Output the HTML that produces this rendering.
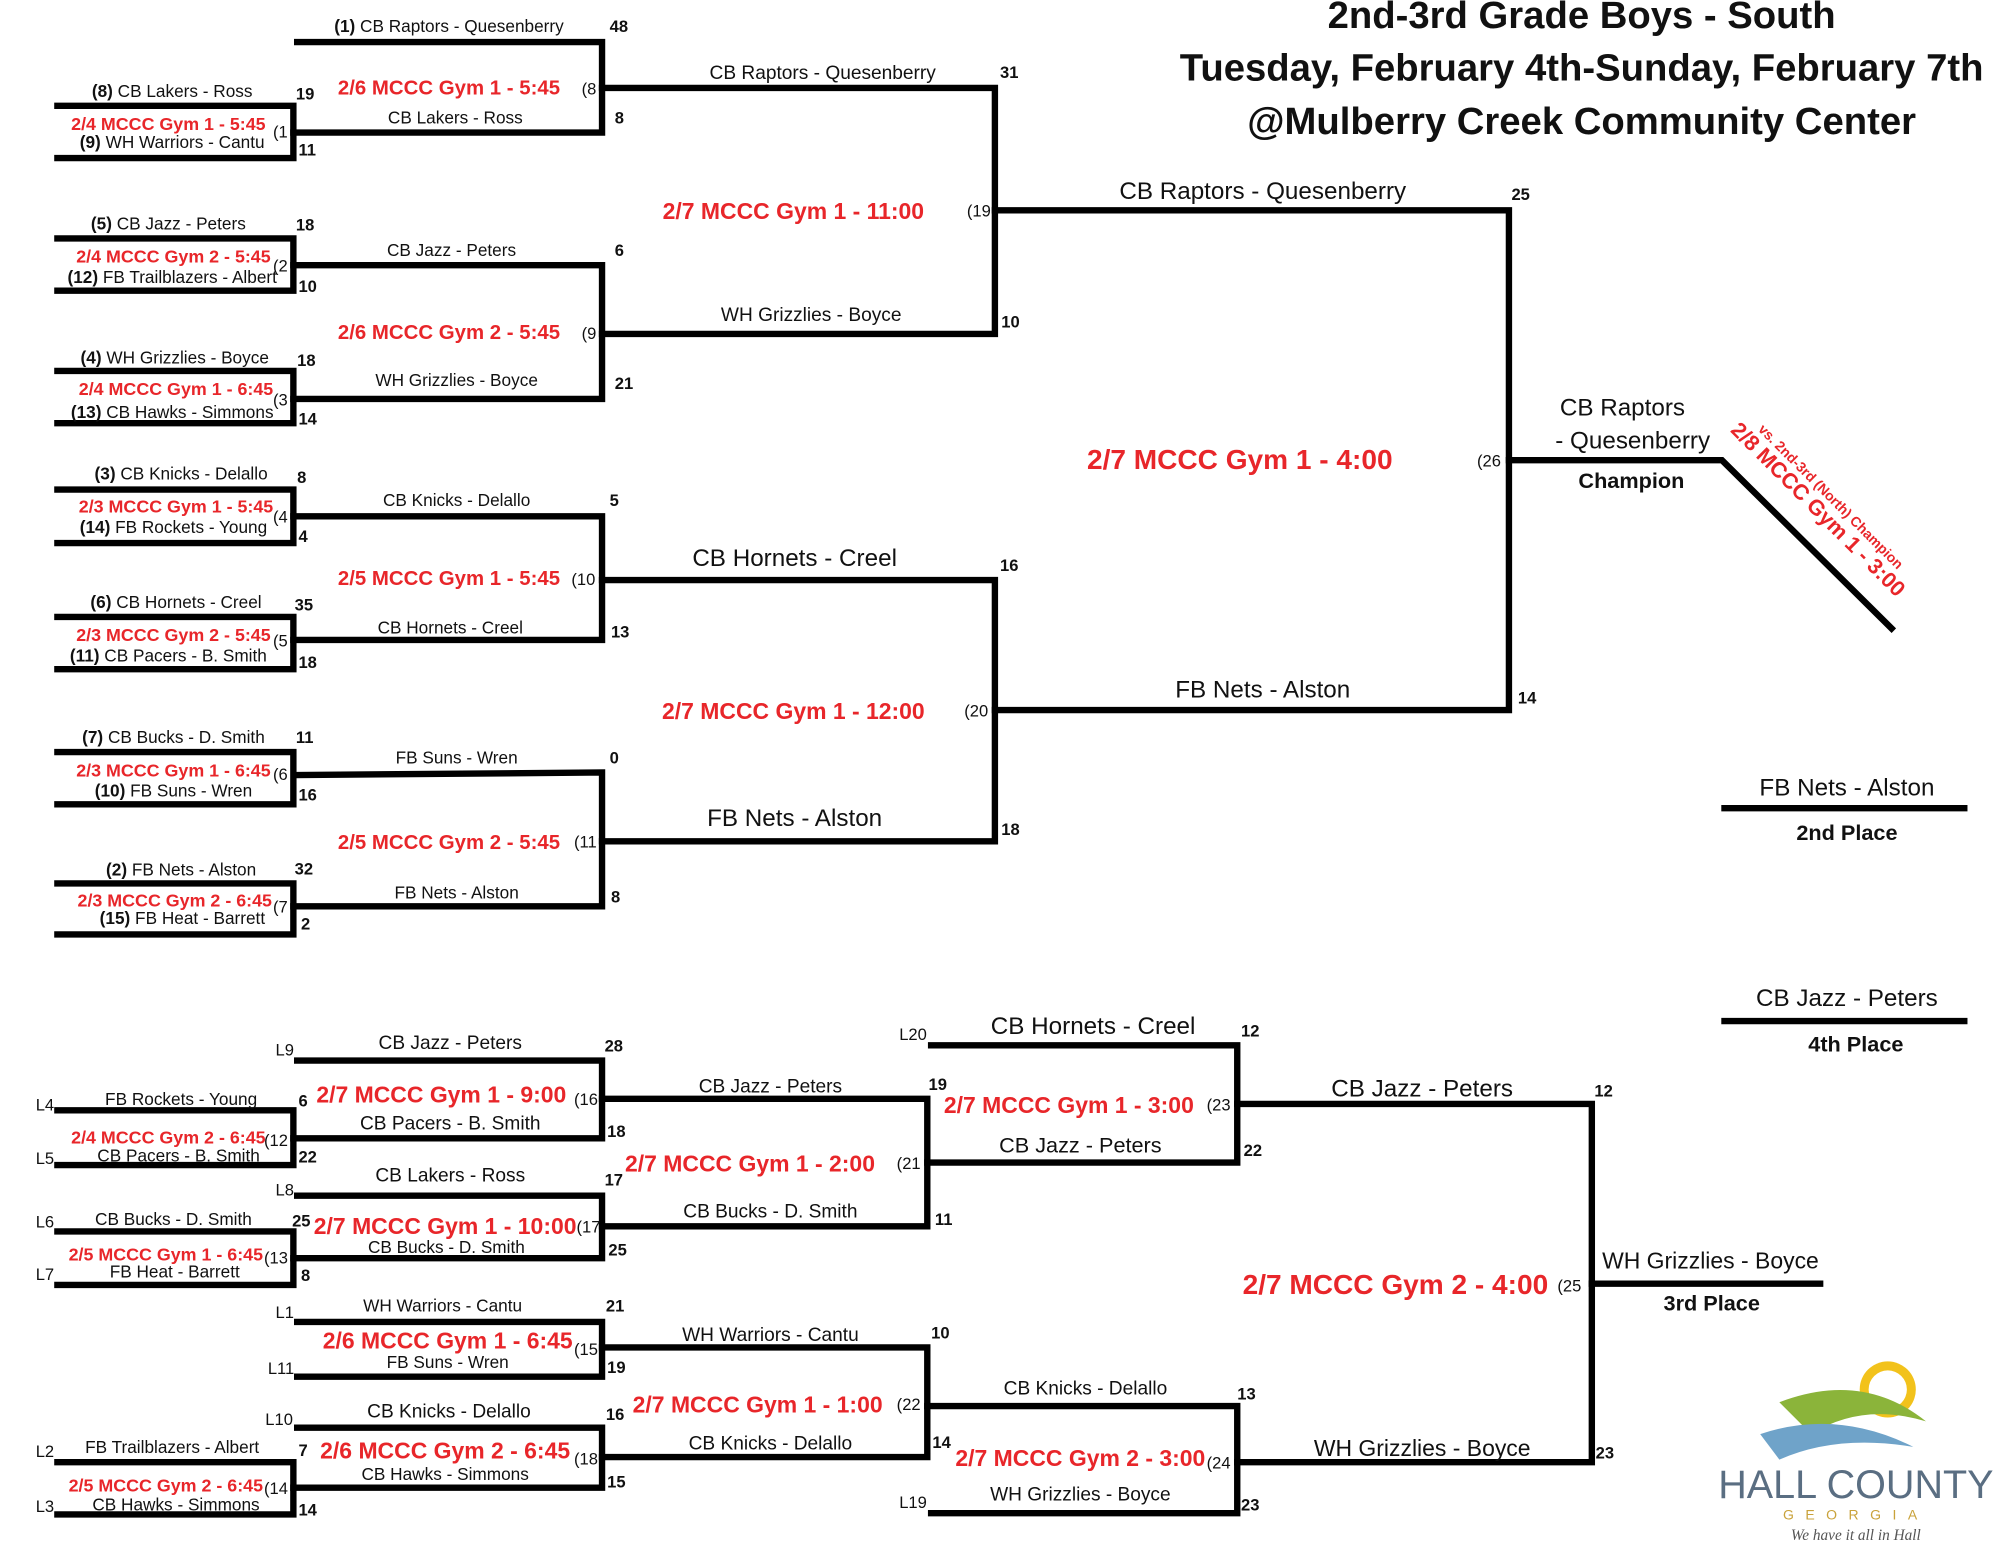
<!DOCTYPE html>
<html><head><meta charset="utf-8"><style>
html,body{margin:0;padding:0;background:#fff;}
svg{display:block;}
text{font-family:"Liberation Sans","DejaVu Sans",sans-serif;fill:#111;}
.s{font-size:13.5px;text-anchor:middle;}
.m{font-size:15px;text-anchor:middle;}
.l{font-size:19px;text-anchor:middle;}
.r{fill:#e8262a;font-weight:bold;font-size:14px;text-anchor:middle;}
.rm{fill:#e8262a;font-weight:bold;font-size:18px;text-anchor:middle;}
.rl{fill:#e8262a;font-weight:bold;font-size:22px;text-anchor:middle;}
.n{font-size:13px;font-weight:bold;}
.p{font-size:13px;}
.b{font-weight:bold;}
.t{font-size:30px;font-weight:bold;text-anchor:middle;}
</style></head><body>
<svg width="2000" height="1545" viewBox="0 0 1568 1212" preserveAspectRatio="none" xmlns="http://www.w3.org/2000/svg">
<g stroke="#000" stroke-width="5" fill="none" stroke-linecap="square">
<path d="M45 83H230V124H45"/>
<path d="M45 187H230V228H45"/>
<path d="M45 291H230V332H45"/>
<path d="M45 384H230V426H45"/>
<path d="M45 484H230V525H45"/>
<path d="M45 590H230V631H45"/>
<path d="M45 693H230V733H45"/>
<path d="M233 33H472V104H230"/>
<path d="M230 208H472V313H230"/>
<path d="M230 405H472V502H230"/>
<path d="M233 608L472 606V711H230"/>
<path d="M472 69H780V262H472"/>
<path d="M472 455H780V660H472"/>
<path d="M780 165H1183V557H780"/>
<path d="M1183 361H1350L1483 493"/>
<path d="M1352 634H1540M1352 801H1540"/>
<path d="M45 871H230V914H45"/>
<path d="M45 966H230V1008H45"/>
<path d="M45 1147H230V1188H45"/>
<path d="M233 832H472V893H230"/>
<path d="M233 938H472V987H230"/>
<path d="M233 1037H472V1080H233"/>
<path d="M233 1120H472V1167H230"/>
<path d="M472 862H727V962H472"/>
<path d="M472 1057H727V1143H472"/>
<path d="M730 820H970V912H727"/>
<path d="M727 1103H970V1187H730"/>
<path d="M970 866H1248V1147H970"/>
<path d="M1248 1007H1427"/>
</g>

<text class="t" x="1240" y="22">2nd-3rd Grade Boys  - South</text>
<text class="t" x="1240" y="63">Tuesday, February 4th-Sunday, February 7th</text>
<text class="t" x="1240" y="105">@Mulberry Creek Community Center</text>

<text class="s" x="135" y="76"><tspan class="b">(8)</tspan> CB Lakers - Ross</text>
<text class="r" x="132" y="102">2/4 MCCC Gym 1 - 5:45</text>
<text class="s" x="135" y="116"><tspan class="b">(9)</tspan> WH Warriors - Cantu</text>
<text class="p" x="214" y="108">(1</text>
<text class="n" x="232" y="78">19</text><text class="n" x="234" y="122">11</text>

<text class="s" x="132" y="180"><tspan class="b">(5)</tspan> CB Jazz - Peters</text>
<text class="r" x="136" y="206">2/4 MCCC Gym 2 - 5:45</text>
<text class="s" x="135" y="222"><tspan class="b">(12)</tspan> FB Trailblazers - Albert</text>
<text class="p" x="214" y="213">(2</text>
<text class="n" x="232" y="181">18</text><text class="n" x="234" y="229">10</text>

<text class="s" x="137" y="285"><tspan class="b">(4)</tspan> WH Grizzlies - Boyce</text>
<text class="r" x="138" y="310">2/4 MCCC Gym 1 - 6:45</text>
<text class="s" x="135" y="328"><tspan class="b">(13)</tspan> CB Hawks - Simmons</text>
<text class="p" x="214" y="318">(3</text>
<text class="n" x="233" y="287">18</text><text class="n" x="234" y="333">14</text>

<text class="s" x="142" y="376"><tspan class="b">(3)</tspan> CB Knicks - Delallo</text>
<text class="r" x="138" y="402">2/3 MCCC Gym 1 - 5:45</text>
<text class="s" x="136" y="418"><tspan class="b">(14)</tspan> FB Rockets - Young</text>
<text class="p" x="214" y="410">(4</text>
<text class="n" x="233" y="379">8</text><text class="n" x="234" y="425">4</text>

<text class="s" x="138" y="477"><tspan class="b">(6)</tspan> CB Hornets - Creel</text>
<text class="r" x="136" y="503">2/3 MCCC Gym 2 - 5:45</text>
<text class="s" x="132" y="519"><tspan class="b">(11)</tspan> CB Pacers - B. Smith</text>
<text class="p" x="214" y="507">(5</text>
<text class="n" x="231" y="479">35</text><text class="n" x="234" y="524">18</text>

<text class="s" x="136" y="583"><tspan class="b">(7)</tspan> CB Bucks - D. Smith</text>
<text class="r" x="136" y="609">2/3 MCCC Gym 1 - 6:45</text>
<text class="s" x="136" y="625"><tspan class="b">(10)</tspan> FB Suns - Wren</text>
<text class="p" x="214" y="612">(6</text>
<text class="n" x="232" y="583">11</text><text class="n" x="234" y="628">16</text>

<text class="s" x="142" y="687"><tspan class="b">(2)</tspan> FB Nets - Alston</text>
<text class="r" x="137" y="711">2/3 MCCC Gym 2 - 6:45</text>
<text class="s" x="143" y="725"><tspan class="b">(15)</tspan> FB Heat - Barrett</text>
<text class="p" x="214" y="716">(7</text>
<text class="n" x="231" y="686">32</text><text class="n" x="236" y="729">2</text>

<text class="s" x="352" y="25"><tspan class="b">(1)</tspan> CB Raptors - Quesenberry</text>
<text class="n" x="478" y="25">48</text>
<text class="rm" x="352" y="74" style="font-size:16px">2/6 MCCC Gym 1 - 5:45</text>
<text class="p" x="456" y="74">(8</text>
<text class="s" x="357" y="97">CB Lakers - Ross</text>
<text class="n" x="482" y="97">8</text>

<text class="s" x="354" y="201">CB Jazz - Peters</text><text class="n" x="482" y="201">6</text>
<text class="rm" x="352" y="266" style="font-size:16px">2/6 MCCC Gym 2 - 5:45</text>
<text class="p" x="456" y="266">(9</text>
<text class="s" x="358" y="303">WH Grizzlies - Boyce</text><text class="n" x="482" y="305">21</text>

<text class="s" x="358" y="397">CB Knicks - Delallo</text><text class="n" x="478" y="397">5</text>
<text class="rm" x="352" y="459" style="font-size:16px">2/5 MCCC Gym 1 - 5:45</text>
<text class="p" x="448" y="459">(10</text>
<text class="s" x="353" y="497">CB Hornets - Creel</text><text class="n" x="479" y="500">13</text>

<text class="s" x="358" y="599">FB Suns - Wren</text><text class="n" x="478" y="599">0</text>
<text class="rm" x="352" y="666" style="font-size:16px">2/5 MCCC Gym 2 - 5:45</text>
<text class="p" x="450" y="665">(11</text>
<text class="s" x="358" y="705">FB Nets - Alston</text><text class="n" x="479" y="708">8</text>

<text class="m" x="645" y="62">CB Raptors - Quesenberry</text><text class="n" x="784" y="61">31</text>
<text class="rm" x="622" y="172">2/7 MCCC Gym 1 - 11:00</text>
<text class="p" x="758" y="170">(19</text>
<text class="m" x="636" y="252">WH Grizzlies - Boyce</text><text class="n" x="785" y="257">10</text>

<text class="l" x="623" y="444">CB Hornets - Creel</text><text class="n" x="784" y="448">16</text>
<text class="rm" x="622" y="564">2/7 MCCC Gym 1 - 12:00</text>
<text class="p" x="756" y="562">(20</text>
<text class="l" x="623" y="648">FB Nets - Alston</text><text class="n" x="785" y="655">18</text>

<text class="l" x="990" y="156">CB Raptors - Quesenberry</text><text class="n" x="1185" y="157">25</text>
<text class="rl" x="972" y="368">2/7 MCCC Gym 1 - 4:00</text>
<text class="p" x="1158" y="366">(26</text>
<text class="l" x="990" y="547">FB Nets - Alston</text><text class="n" x="1190" y="552">14</text>

<text class="l" x="1272" y="326">CB Raptors</text>
<text class="l" x="1280" y="352">- Quesenberry</text>
<text class="l b" x="1279" y="383" style="font-size:17px">Champion</text>
<text transform="translate(1420,405) rotate(45)" style="fill:#e8262a;font-size:11px;font-weight:bold;text-anchor:middle" x="0" y="-18">vs. 2nd-3rd (North) Champion</text>
<text transform="translate(1420,405) rotate(45)" style="fill:#e8262a;font-size:17px;font-weight:bold;text-anchor:middle" x="0" y="-2">2/8 MCCC Gym 1 - 3:00</text>

<text class="l" x="1448" y="624">FB Nets - Alston</text>
<text class="l b" x="1448" y="659" style="font-size:17px">2nd Place</text>
<text class="l" x="1448" y="789">CB Jazz - Peters</text>
<text class="l b" x="1455" y="825" style="font-size:17px">4th Place</text>

<text class="p" x="28" y="871">L4</text><text class="p" x="28" y="913">L5</text>
<text class="s" x="142" y="867">FB Rockets - Young</text>
<text class="r" x="132" y="897">2/4 MCCC Gym 2 - 6:45</text>
<text class="s" x="140" y="911">CB Pacers - B. Smith</text>
<text class="p" x="207" y="899">(12</text>
<text class="n" x="234" y="868">6</text><text class="n" x="234" y="912">22</text>

<text class="p" x="28" y="963">L6</text><text class="p" x="28" y="1004">L7</text>
<text class="s" x="136" y="961">CB Bucks - D. Smith</text>
<text class="r" x="130" y="989">2/5 MCCC Gym 1 - 6:45</text>
<text class="s" x="137" y="1002">FB Heat - Barrett</text>
<text class="p" x="207" y="991">(13</text>
<text class="n" x="229" y="962">25</text><text class="n" x="236" y="1005">8</text>

<text class="p" x="28" y="1143">L2</text><text class="p" x="28" y="1186">L3</text>
<text class="s" x="135" y="1140">FB Trailblazers - Albert</text>
<text class="r" x="130" y="1170">2/5 MCCC Gym 2 - 6:45</text>
<text class="s" x="138" y="1185">CB Hawks - Simmons</text>
<text class="p" x="207" y="1172">(14</text>
<text class="n" x="234" y="1142">7</text><text class="n" x="234" y="1189">14</text>

<text class="p" x="216" y="828">L9</text>
<text class="m" x="353" y="823">CB Jazz - Peters</text><text class="n" x="474" y="825">28</text>
<text class="rm" x="346" y="865">2/7 MCCC Gym 1 - 9:00</text>
<text class="p" x="450" y="867">(16</text>
<text class="m" x="353" y="886">CB Pacers - B. Smith</text><text class="n" x="476" y="892">18</text>

<text class="p" x="216" y="938">L8</text>
<text class="m" x="353" y="927">CB Lakers - Ross</text><text class="n" x="474" y="930">17</text>
<text class="rm" x="349" y="968">2/7 MCCC Gym 1 - 10:00</text>
<text class="p" x="452" y="967">(17</text>
<text class="s" x="350" y="983">CB Bucks - D. Smith</text><text class="n" x="477" y="985">25</text>

<text class="p" x="216" y="1034">L1</text>
<text class="s" x="347" y="1029">WH Warriors - Cantu</text><text class="n" x="475" y="1029">21</text>
<text class="rm" x="351" y="1058">2/6 MCCC Gym 1 - 6:45</text>
<text class="p" x="450" y="1063">(15</text>
<text class="s" x="351" y="1073">FB Suns - Wren</text><text class="n" x="476" y="1077">19</text>
<text class="p" x="210" y="1078">L11</text>

<text class="p" x="208" y="1118">L10</text>
<text class="m" x="352" y="1112">CB Knicks - Delallo</text><text class="n" x="475" y="1114">16</text>
<text class="rm" x="349" y="1144">2/6 MCCC Gym 2 - 6:45</text>
<text class="p" x="450" y="1149">(18</text>
<text class="s" x="349" y="1161">CB Hawks - Simmons</text><text class="n" x="476" y="1167">15</text>

<text class="m" x="604" y="857">CB Jazz - Peters</text><text class="n" x="728" y="855">19</text>
<text class="rm" x="588" y="919">2/7 MCCC Gym 1 - 2:00</text>
<text class="p" x="703" y="917">(21</text>
<text class="m" x="604" y="955">CB Bucks - D. Smith</text><text class="n" x="733" y="961">11</text>

<text class="m" x="604" y="1052">WH Warriors - Cantu</text><text class="n" x="730" y="1050">10</text>
<text class="rm" x="594" y="1108">2/7 MCCC Gym 1 - 1:00</text>
<text class="p" x="703" y="1106">(22</text>
<text class="m" x="604" y="1137">CB Knicks - Delallo</text><text class="n" x="731" y="1136">14</text>

<text class="p" x="705" y="816">L20</text>
<text class="l" x="857" y="811">CB Hornets - Creel</text><text class="n" x="973" y="813">12</text>
<text class="rm" x="838" y="873">2/7 MCCC Gym 1 - 3:00</text>
<text class="p" x="946" y="871">(23</text>
<text class="m" x="847" y="904" style="font-size:17px">CB Jazz - Peters</text><text class="n" x="975" y="907">22</text>

<text class="m" x="851" y="1094">CB Knicks - Delallo</text><text class="n" x="970" y="1098">13</text>
<text class="rm" x="847" y="1150">2/7 MCCC Gym 2 - 3:00</text>
<text class="p" x="946" y="1152">(24</text>
<text class="m" x="847" y="1177">WH Grizzlies - Boyce</text>
<text class="p" x="705" y="1183">L19</text><text class="n" x="973" y="1185">23</text>

<text class="l" x="1115" y="860">CB Jazz - Peters</text><text class="n" x="1250" y="860">12</text>
<text class="rl" x="1094" y="1015">2/7 MCCC Gym 2 - 4:00</text>
<text class="p" x="1221" y="1013">(25</text>
<text class="l" x="1115" y="1142" style="font-size:18px">WH Grizzlies - Boyce</text><text class="n" x="1251" y="1144">23</text>
<text class="l" x="1341" y="995" style="font-size:18px">WH Grizzlies - Boyce</text>
<text class="l b" x="1342" y="1028" style="font-size:17px">3rd Place</text>

<circle cx="1480" cy="1090" r="22" fill="#f2c21b"/>
<circle cx="1480" cy="1090" r="15" fill="#fff"/>
<path d="M1395 1100 Q1460 1075 1510 1115 Q1460 1100 1420 1125 Z" fill="#8bb43a"/>
<path d="M1380 1125 Q1440 1105 1500 1135 Q1440 1125 1395 1145 Z" fill="#6fa3c9"/>
<text x="1455" y="1175" style="font-size:31px;fill:#5a6e82;text-anchor:middle">HALL COUNTY</text>
<text x="1455" y="1192" style="font-size:11px;fill:#c9a23a;text-anchor:middle;letter-spacing:9px">GEORGIA</text>
<text x="1455" y="1208" style="font-size:12px;fill:#555;text-anchor:middle;font-style:italic;font-family:'Liberation Serif',serif">We have it all in Hall</text>
</svg>
</body></html>
